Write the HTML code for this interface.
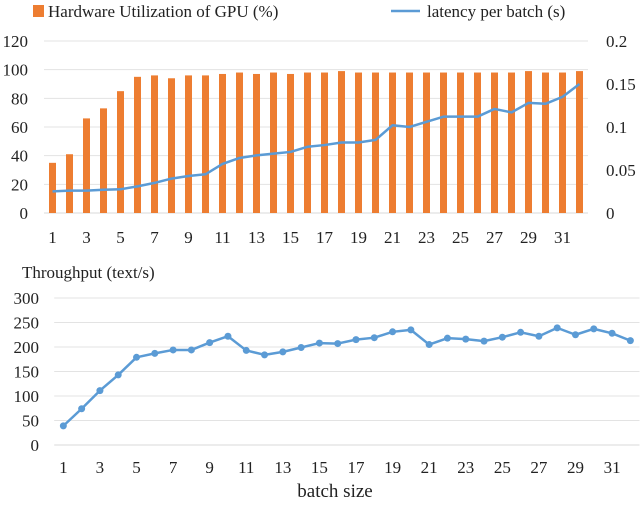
<!DOCTYPE html>
<html><head><meta charset="utf-8"><style>
body{margin:0;background:#fff}
svg text{font-family:"Liberation Serif",serif;fill:#222}
</style></head><body>
<svg id="c" width="640" height="501" viewBox="0 0 640 501" xmlns="http://www.w3.org/2000/svg">
<g>
<rect x="33" y="5" width="11" height="12" fill="#ED7D31"/>
<text x="48" y="17" font-size="17">Hardware Utilization of GPU (%)</text>
<line x1="391" y1="11" x2="420" y2="11" stroke="#5B9BD5" stroke-width="2.5"/>
<text x="427" y="17" font-size="17">latency per batch (s)</text>
</g>
<text x="22" y="278" font-size="17">Throughput (text/s)</text>
<text x="335" y="497" font-size="19" text-anchor="middle">batch size</text>
<g id="gtop"></g><g id="gbot"></g>
</svg>
<script>
const batchSizes=[1,2,3,4,5,6,7,8,9,10,11,12,13,14,15,16,17,18,19,20,21,22,23,24,25,26,27,28,29,30,31,32];
const gpuUtil=[35,41,66,73,85,95,96,94,96,96,97,98,97,98,97,98,98,99,98,98,98,98,98,98,98,98,98,98,99,98,98,99];
const latency=[0.0252,0.026,0.026,0.027,0.0276,0.031,0.035,0.040,0.043,0.045,0.057,0.064,0.067,0.069,0.071,0.077,0.079,0.082,0.082,0.085,0.102,0.100,0.106,0.112,0.112,0.112,0.121,0.117,0.128,0.127,0.135,0.150];
const throughput=[39,74,111,143,179,187,194,194,209,222,193,184,190,199,208,207,215,219,231,235,205,218,216,212,220,230,222,239,225,237,228,213];
const leftTicks=[0,20,40,60,80,100,120];
const rightTicks=["0","0.05","0.1","0.15","0.2"];
const rightTickVals=[0,0.05,0.1,0.15,0.2];
const tpTicks=[0,50,100,150,200,250,300];
const NS="http://www.w3.org/2000/svg";
function mk(p,t,a){const e=document.createElementNS(NS,t);for(const k in a)e.setAttribute(k,a[k]);p.appendChild(e);return e;}
const gTop=document.getElementById('gtop'),gBot=document.getElementById('gbot');
const tL=44,tR=588,tB=213,tT=41,n=batchSizes.length,bw=(tR-tL)/n;
const xT=i=>tL+bw*(i+0.5);
const yL=v=>tB-(v/120)*(tB-tT);
const yR=v=>tB-(v/0.2)*(tB-tT);
leftTicks.forEach(v=>{
 const l=mk(gTop,'line',{x1:tL,x2:tR,y1:yL(v),y2:yL(v),stroke:v?'#e3e3e3':'#d9d9d9'});
 
 
 const t=mk(gTop,'text',{x:28,y:yL(v)+6,'font-size':17,'text-anchor':'end'});t.textContent=v;
 
 
});
rightTickVals.forEach((v,i)=>{
 const t=mk(gTop,'text',{x:606,y:yR(v)+6,'font-size':17});t.textContent=rightTicks[i];
 
 
});
gpuUtil.forEach((v,i)=>{
 const r=mk(gTop,'rect',{x:xT(i)-3.5,y:yL(v),width:7,height:tB-yL(v),fill:'#ED7D31'});
 
 
 if(i%2==0){const t=mk(gTop,'text',{x:xT(i),y:243,'font-size':17,'text-anchor':'middle'});t.textContent=batchSizes[i];
 
 }
});
const lp=mk(gTop,'polyline',{points:latency.map((v,i)=>xT(i)+','+yR(v)).join(' '),fill:'none',stroke:'#5B9BD5','stroke-width':2.5,'stroke-linejoin':'round'});


const bL=54.2,bR=639.5,bB=445,bT=298,bw2=(bR-bL)/n;
const xB=i=>bL+bw2*(i+0.5);
const yB=v=>bB-(v/300)*(bB-bT);
tpTicks.forEach(v=>{
 const l=mk(gBot,'line',{x1:bL,x2:bR,y1:yB(v),y2:yB(v),stroke:v?'#e3e3e3':'#d9d9d9'});
 
 
 const t=mk(gBot,'text',{x:39,y:yB(v)+6,'font-size':17,'text-anchor':'end'});t.textContent=v;
 
 
});
const tp=mk(gBot,'polyline',{points:throughput.map((v,i)=>xB(i)+','+yB(v)).join(' '),fill:'none',stroke:'#5B9BD5','stroke-width':2.5,'stroke-linejoin':'round'});


throughput.forEach((v,i)=>{
 const c=mk(gBot,'circle',{cx:xB(i),cy:yB(v),r:3.5,fill:'#5B9BD5'});
 
 
 if(i%2==0){const t=mk(gBot,'text',{x:xB(i),y:473,'font-size':17,'text-anchor':'middle'});t.textContent=batchSizes[i];
 
 }
});
</script>
</body></html>
